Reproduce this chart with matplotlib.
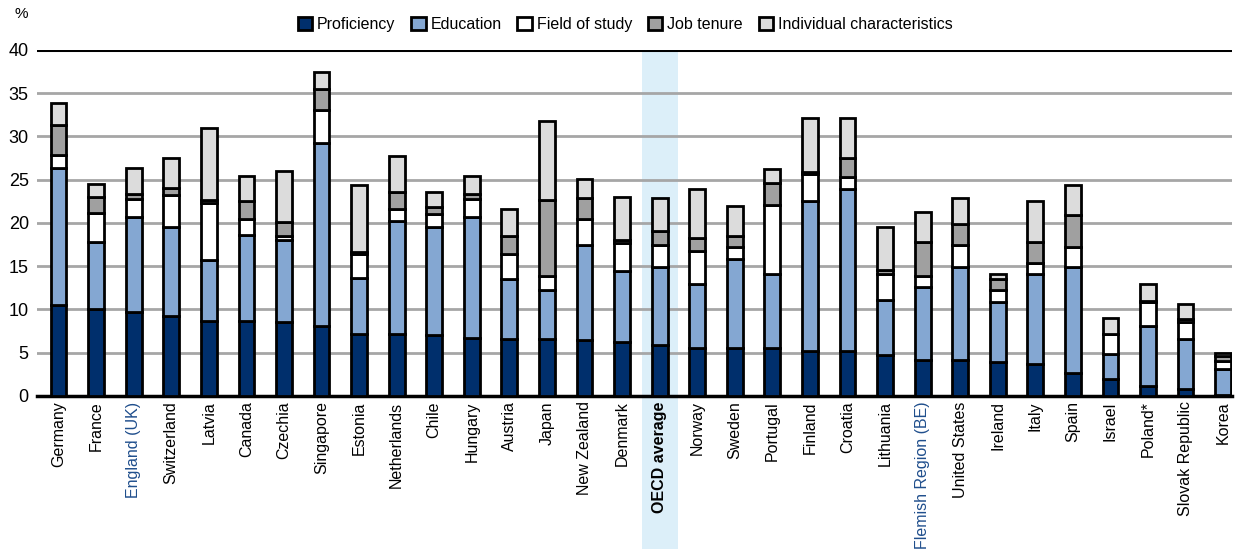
import numpy as np
import matplotlib
matplotlib.use("Agg")
import matplotlib.pyplot as plt
from matplotlib.patches import Patch, Rectangle
import matplotlib.transforms as mtransforms

plt.rcParams['font.family'] = ['Liberation Sans', 'DejaVu Sans']

countries = ["Germany", "France", "England (UK)", "Switzerland", "Latvia", "Canada",
             "Czechia", "Singapore", "Estonia", "Netherlands", "Chile", "Hungary",
             "Austria", "Japan", "New Zealand", "Denmark", "OECD average", "Norway",
             "Sweden", "Portugal", "Finland", "Croatia", "Lithuania",
             "Flemish Region (BE)", "United States", "Ireland", "Italy", "Spain",
             "Israel", "Poland*", "Slovak Republic", "Korea"]

proficiency = [10.5, 10.0, 9.7, 9.2, 8.7, 8.7, 8.5, 8.1, 7.1, 7.1, 7.0, 6.7, 6.6, 6.6, 6.4, 6.2,
               5.9, 5.5, 5.5, 5.5, 5.2, 5.2, 4.7, 4.2, 4.2, 3.9, 3.7, 2.6, 2.0, 1.1, 0.8, 0.1]
education = [15.8, 7.8, 11.0, 10.3, 7.0, 9.9, 9.5, 21.1, 6.5, 13.1, 12.5, 14.0, 6.9, 5.6, 11.1, 8.2,
             9.0, 7.4, 10.3, 8.6, 17.3, 18.7, 6.4, 8.4, 10.7, 7.0, 10.4, 12.3, 2.8, 7.0, 5.8, 3.0]
field_of_study = [1.6, 3.3, 2.1, 3.7, 6.6, 1.9, 0.5, 3.9, 2.8, 1.4, 1.5, 2.1, 2.9, 1.7, 3.0, 3.3,
                  2.6, 3.8, 1.4, 8.0, 3.2, 1.4, 3.0, 1.3, 2.5, 1.3, 1.3, 2.3, 2.3, 2.7, 1.9, 0.9]
job_tenure = [3.4, 1.9, 0.5, 0.8, 0.4, 2.0, 1.6, 2.4, 0.2, 2.0, 0.8, 0.5, 2.1, 8.8, 2.4, 0.3,
              1.6, 1.6, 1.3, 2.5, 0.2, 2.2, 0.4, 3.9, 2.5, 1.3, 2.4, 3.7, 0.0, 0.2, 0.4, 0.6]
individual = [2.6, 1.5, 3.0, 3.5, 8.3, 2.9, 5.9, 2.0, 7.8, 4.1, 1.8, 2.1, 3.1, 9.1, 2.2, 5.0,
              3.8, 5.6, 3.5, 1.6, 6.2, 4.6, 5.0, 3.5, 3.0, 0.6, 4.7, 3.5, 1.9, 1.9, 1.7, 0.4]

series = [("Proficiency", proficiency, "#002F6C"),
          ("Education", education, "#84A7D2"),
          ("Field of study", field_of_study, "#FFFFFF"),
          ("Job tenure", job_tenure, "#A0A0A0"),
          ("Individual characteristics", individual, "#DCDCDC")]

highlight = ["England (UK)", "Flemish Region (BE)"]
oecd = "OECD average"

fig = plt.figure(figsize=(12.38, 5.49), dpi=100)
ax = fig.add_axes([0.030, 0.279, 0.965, 0.630])

x = np.arange(len(countries))
bottom = np.zeros(len(countries))
for name, vals, col in series:
    ax.bar(x, vals, width=0.42, bottom=bottom, color=col, edgecolor="black",
           linewidth=2.0, zorder=3)
    bottom += np.array(vals)

# highlight band for the OECD average (extends through tick labels)
i_oecd = countries.index(oecd)
trans = mtransforms.blended_transform_factory(ax.transData, ax.transAxes)
ax.add_patch(Rectangle((i_oecd - 0.48, -0.45), 0.96, 1.45, transform=trans,
                       facecolor="#DCEFF9", edgecolor="none", clip_on=False, zorder=0))

ax.set_xlim(-0.57, len(countries) - 0.77)
ax.set_ylim(0, 40)
ax.set_yticks(np.arange(0, 41, 5))
for yv in range(5, 40, 5):
    ax.axhline(yv, color="#A6A6A6", linewidth=2.0, zorder=1)
ax.axhline(40, color="black", linewidth=2.2, zorder=1)

for s in ["top", "right", "left"]:
    ax.spines[s].set_visible(False)
ax.spines["bottom"].set_linewidth(2.5)
ax.tick_params(axis="y", length=0, labelsize=13, pad=6)
ax.tick_params(axis="x", length=0, labelsize=11.5, pad=4)
ax.set_xticks(x)
ax.set_xticklabels(countries, rotation=90)
for lab in ax.get_xticklabels():
    if lab.get_text() in highlight:
        lab.set_color("#1F4E8C")
    if lab.get_text() == oecd:
        lab.set_fontweight("bold")

fig.text(0.012, 0.975, "%", fontsize=11, ha="left", va="center")

handles = [Patch(facecolor=c, edgecolor="black", linewidth=2.0, label=n) for n, v, c in series]
fig.legend(handles=handles, loc="center", bbox_to_anchor=(0.505, 0.955), ncol=5,
           frameon=False, fontsize=11.5, handlelength=0.9, handleheight=0.9,
           handletextpad=0.3, columnspacing=1.0)

fig.savefig("out.png", dpi=100)
